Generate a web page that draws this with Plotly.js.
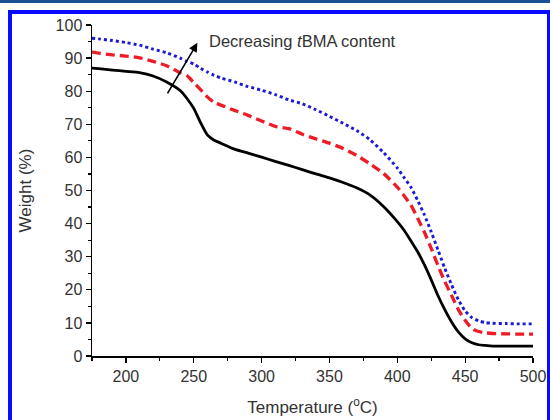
<!DOCTYPE html>
<html>
<head>
<meta charset="utf-8">
<script src="https://cdn.plot.ly/plotly-3.0.1.min.js"></script>
<style>
html,body{margin:0;padding:0;overflow:hidden;background:#fff;}
#wrap{position:relative;width:550px;height:420px;overflow:hidden;}
#plot{position:absolute;left:0;top:0;width:550px;height:420px;}
#strip{position:absolute;left:0;top:0;width:550px;height:3px;background:#1d4f95;pointer-events:none;}
#frame{position:absolute;left:8px;top:10px;width:543px;height:430px;box-sizing:border-box;border:4px solid #0a0aff;pointer-events:none;}
</style>
</head>
<body>
<div id="wrap">
<div id="plot"></div>
<div id="strip"></div>
<div id="frame"></div>
</div>
<script>
const temperature = [175,180,190,200,210,220,230,240,245,250,255,260,265,270,280,290,300,310,320,330,340,350,360,370,380,390,400,405,410,415,420,425,430,435,440,445,450,455,460,465,470,480,490,500];
const weightLowest = [87.0,86.8,86.4,86.0,85.6,84.6,82.8,80.2,77.8,74.8,70.5,66.8,65.2,64.3,62.5,61.3,60.1,58.8,57.6,56.3,55.0,53.8,52.4,50.8,48.6,45.1,40.6,38.0,34.8,31.5,27.5,23.0,18.2,14.0,10.3,7.3,5.2,4.0,3.4,3.2,3.0,3.0,3.0,3.0];
const weightMiddle = [91.8,91.5,91.0,90.6,90.1,89.0,87.7,85.6,84.7,82.6,80.5,78.3,76.6,75.8,74.2,72.7,71.0,69.4,68.7,67.0,65.6,64.3,62.7,60.6,58.0,55.1,51.0,48.4,45.6,41.6,37.4,32.5,27.3,22.5,18.3,14.0,10.8,8.3,7.4,7.0,6.8,6.7,6.6,6.6];
const weightHighest = [96.0,95.8,95.3,94.7,93.9,92.7,91.6,90.0,89.0,88.2,86.9,85.8,84.8,84.0,82.8,81.4,80.3,79.0,77.4,76.2,74.4,72.4,70.3,68.1,65.3,61.4,56.8,53.9,51.0,47.0,42.6,37.5,32.0,26.5,21.5,17.0,13.6,11.6,10.6,10.1,9.9,9.8,9.7,9.7];
const xTicks = [200,250,300,350,400,450,500];
const yTicks = [0,10,20,30,40,50,60,70,80,90,100];
const arrowTail = [230, 78.9];
const arrowHead = [252.7, 94.6];
const labelPos = [259.5, 95.3];
const labelText = 'Decreasing <i>t</i>BMA content';

const font = 'Liberation Sans, Arial, sans-serif';
const traces = [
  {x: temperature, y: weightLowest, mode:'lines', line:{color:'#000000', width:2.8, shape:'spline', smoothing:0.6}},
  {x: temperature, y: weightMiddle, mode:'lines', line:{color:'#ee1c25', width:3.3, dash:'9px,5px', shape:'spline', smoothing:0.6}},
  {x: temperature, y: weightHighest, mode:'lines', line:{color:'#1a1ad6', width:2.9, dash:'dot', shape:'spline', smoothing:0.6}}
];
const axisCommon = {
  showgrid:false, zeroline:false, showline:true, linecolor:'#000', linewidth:1.5,
  ticks:'outside', ticklen:5, tickwidth:1.3, tickcolor:'#000',
  tickfont:{family:font, size:16, color:'#333'},
  mirror:false
};
const layout = {
  width:550, height:420,
  margin:{l:92, r:17, t:25, b:64},
  paper_bgcolor:'#fff', plot_bgcolor:'#fff',
  showlegend:false,
  xaxis: Object.assign({}, axisCommon, {
    range:[175,500], tickvals:xTicks, ticktext:xTicks.map(String),
    minor:{dtick:25, tick0:0, ticks:'outside', ticklen:3, tickcolor:'#000', tickwidth:1.2},
    title:{text:'Temperature (<sup>o</sup>C)', font:{family:font, size:17, color:'#333'}, standoff:17}
  }),
  yaxis: Object.assign({}, axisCommon, {
    range:[0,100], tickvals:yTicks, ticktext:yTicks.map(String),
    minor:{dtick:5, tick0:0, ticks:'outside', ticklen:3, tickcolor:'#000', tickwidth:1.2},
    title:{text:'Weight (%)', font:{family:font, size:17, color:'#333'}, standoff:19}
  }),
  annotations:[
    {x:arrowHead[0], y:arrowHead[1], ax:arrowTail[0], ay:arrowTail[1], axref:'x', ayref:'y', xref:'x', yref:'y',
     text:'', showarrow:true, arrowhead:2, arrowsize:1.1, arrowwidth:1.6, arrowcolor:'#000'},
    {x:labelPos[0], y:labelPos[1], xref:'x', yref:'y', text:labelText, showarrow:false, xanchor:'left', yanchor:'middle',
     font:{family:font, size:16.5, color:'#333'}}
  ]
};
Plotly.newPlot('plot', traces, layout, {displayModeBar:false, staticPlot:true});
</script>
</body>
</html>
